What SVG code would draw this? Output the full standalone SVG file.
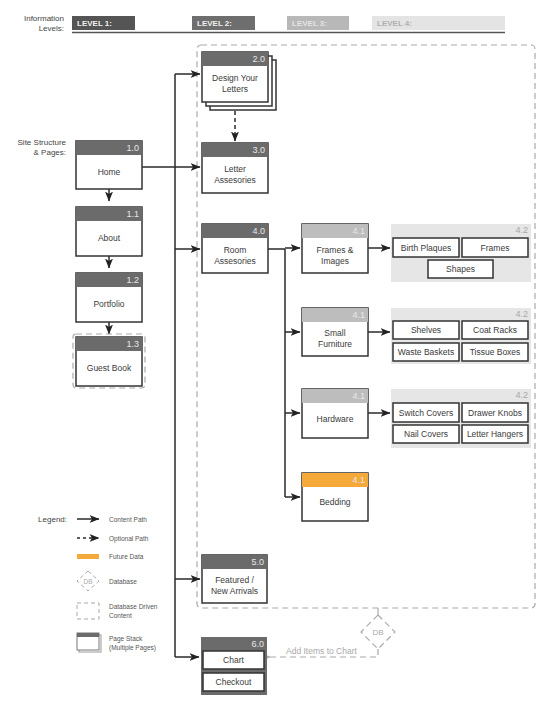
<svg xmlns="http://www.w3.org/2000/svg" width="550" height="711" viewBox="0 0 550 711">
<defs>
<style>
text{font-family:"Liberation Sans",Arial,sans-serif}
.lbl{font-size:8.5px;fill:#3a3a3a;text-anchor:middle}
.num{font-size:9px;fill:#e8e8e8;text-anchor:end}
.box{fill:#fff;stroke:#333;stroke-width:1.5}
.hd{fill:#6b6b6b}
.hd3{fill:#bdbdbd}
.hdo{fill:#f5a93a}
.item{fill:#fff;stroke:#333;stroke-width:1.5}
.grp{fill:#e6e6e6}
.n42{font-size:9px;fill:#a8a8a8;text-anchor:end}
.ln{fill:none;stroke:#2a2a2a;stroke-width:1.5}
.dash{fill:none;stroke:#aaa;stroke-width:1.2;stroke-dasharray:6 4}
.side{font-size:8px;fill:#444;text-anchor:end}
.leg{font-size:6.5px;fill:#555}
.lv{font-size:8px;font-weight:bold}
</style>
<marker id="ah" markerUnits="userSpaceOnUse" markerWidth="10" markerHeight="8" refX="9.5" refY="4" orient="auto"><path d="M0,0 L10,4 L0,8 L2.5,4 Z" fill="#222"/></marker>
<marker id="ahg" markerUnits="userSpaceOnUse" markerWidth="10" markerHeight="8" refX="1" refY="4" orient="auto"><path d="M10,0 L0,4 L10,8 L7.5,4 Z" fill="#aaa"/></marker>
</defs>
<rect width="550" height="711" fill="#fff"/>

<g id="levels">
<text class="side" x="64" y="21">Information</text>
<text class="side" x="64" y="31">Levels:</text>
<rect x="72" y="16" width="63" height="14" fill="#555"/>
<text class="lv" x="77" y="26" fill="#f0f0f0">LEVEL 1:</text>
<rect x="192" y="16" width="63" height="14" fill="#6e6e6e"/>
<text class="lv" x="197" y="26" fill="#f0f0f0">LEVEL 2:</text>
<rect x="287" y="16" width="62" height="14" fill="#b8b8b8"/>
<text class="lv" x="292" y="26" fill="#e4e4e4">LEVEL 3:</text>
<rect x="372" y="16" width="133" height="14" fill="#e4e4e4"/>
<text class="lv" x="377" y="26" fill="#b0b0b0" font-weight="normal">LEVEL 4:</text>
<line x1="72" y1="32.5" x2="505" y2="32.5" stroke="#555" stroke-width="1.5"/>
</g>

<text class="side" x="66" y="145">Site Structure</text>
<text class="side" x="66" y="155">&amp; Pages:</text>

<rect id="container" x="197" y="45" width="338" height="563" rx="4" class="dash"/>

<g id="connectors">
<line class="ln" x1="175" y1="74" x2="175" y2="657"/>
<line class="ln" x1="175" y1="74" x2="200" y2="74" marker-end="url(#ah)"/>
<line class="ln" x1="142" y1="167" x2="200" y2="167" marker-end="url(#ah)"/>
<line class="ln" x1="175" y1="249" x2="200" y2="249" marker-end="url(#ah)"/>
<line class="ln" x1="175" y1="579" x2="200" y2="579" marker-end="url(#ah)"/>
<line class="ln" x1="175" y1="657" x2="199" y2="657" marker-end="url(#ah)"/>
<line class="ln" x1="109" y1="189" x2="109" y2="201" marker-end="url(#ah)"/>
<line class="ln" x1="109" y1="256" x2="109" y2="268" marker-end="url(#ah)"/>
<line class="ln" x1="109" y1="322" x2="109" y2="334" marker-end="url(#ah)"/>
<line class="ln" x1="235" y1="111" x2="235" y2="141" stroke-dasharray="4 3" marker-end="url(#ah)"/>
<line class="ln" x1="268" y1="249" x2="285" y2="249"/>
<line class="ln" x1="285" y1="249" x2="285" y2="497"/>
<line class="ln" x1="285" y1="248" x2="300" y2="248" marker-end="url(#ah)"/>
<line class="ln" x1="285" y1="332" x2="300" y2="332" marker-end="url(#ah)"/>
<line class="ln" x1="285" y1="413" x2="300" y2="413" marker-end="url(#ah)"/>
<line class="ln" x1="285" y1="497" x2="300" y2="497" marker-end="url(#ah)"/>
<line class="ln" x1="368" y1="248" x2="390" y2="248" marker-end="url(#ah)"/>
<line class="ln" x1="368" y1="332" x2="390" y2="332" marker-end="url(#ah)"/>
<line class="ln" x1="368" y1="413" x2="390" y2="413" marker-end="url(#ah)"/>
<path d="M378,608 L378,615" stroke="#aaa" stroke-width="1.2" fill="none"/>
<path d="M378,649 L378,657 L270,657" stroke="#aaa" stroke-width="1.2" fill="none" stroke-dasharray="6 4" marker-end="url(#ahg)"/>
<text x="286" y="654" font-size="8.5" fill="#a8a8a8">Add Items to Chart</text>
</g>

<g id="db">
<polygon points="378,615 395,632 378,649 361,632" fill="#fff" stroke="#aaa" stroke-width="1.2" stroke-dasharray="6 4"/>
<text x="378" y="635" font-size="8" fill="#aaa" text-anchor="middle">DB</text>
</g>

<g id="n1-0">
<rect class="box" x="76" y="141" width="66" height="48"/>
<rect class="hd" x="76" y="141" width="66" height="14"/>
<text class="num" x="139" y="151">1.0</text>
<text class="lbl" x="109" y="175">Home</text>
</g>
<g id="n1-1">
<rect class="box" x="76" y="207" width="66" height="49"/>
<rect class="hd" x="76" y="207" width="66" height="14"/>
<text class="num" x="139" y="217">1.1</text>
<text class="lbl" x="109" y="241">About</text>
</g>
<g id="n1-2">
<rect class="box" x="76" y="273" width="66" height="49"/>
<rect class="hd" x="76" y="273" width="66" height="14"/>
<text class="num" x="139" y="283">1.2</text>
<text class="lbl" x="109" y="307">Portfolio</text>
</g>
<g id="n1-3">
<rect x="73" y="334" width="72" height="54" rx="3" class="dash"/>
<rect class="box" x="76" y="337" width="66" height="49"/>
<rect class="hd" x="76" y="337" width="66" height="14"/>
<text class="num" x="139" y="347">1.3</text>
<text class="lbl" x="109" y="371">Guest Book</text>
</g>

<g id="n2-0">
<rect class="box" x="210" y="60" width="66" height="50"/>
<rect class="box" x="206" y="56" width="66" height="50"/>
<rect class="box" x="202" y="52" width="66" height="50"/>
<rect class="hd" x="202" y="52" width="66" height="14"/>
<text class="num" x="265" y="62">2.0</text>
<text class="lbl" x="235" y="81">Design Your</text>
<text class="lbl" x="235" y="92">Letters</text>
</g>
<g id="n3-0">
<rect class="box" x="202" y="143" width="66" height="50"/>
<rect class="hd" x="202" y="143" width="66" height="14"/>
<text class="num" x="265" y="153">3.0</text>
<text class="lbl" x="235" y="172">Letter</text>
<text class="lbl" x="235" y="183">Assesories</text>
</g>
<g id="n4-0">
<rect class="box" x="202" y="224" width="66" height="49"/>
<rect class="hd" x="202" y="224" width="66" height="14"/>
<text class="num" x="265" y="234">4.0</text>
<text class="lbl" x="235" y="253">Room</text>
<text class="lbl" x="235" y="264">Assesories</text>
</g>

<g id="n4-1a">
<rect class="box" x="302" y="224" width="66" height="49"/>
<rect class="hd3" x="302" y="224" width="66" height="14"/>
<text class="num" x="365" y="234">4.1</text>
<text class="lbl" x="335" y="253">Frames &amp;</text>
<text class="lbl" x="335" y="264">Images</text>
</g>
<g id="n4-1b">
<rect class="box" x="302" y="308" width="66" height="48"/>
<rect class="hd3" x="302" y="308" width="66" height="14"/>
<text class="num" x="365" y="318">4.1</text>
<text class="lbl" x="335" y="336">Small</text>
<text class="lbl" x="335" y="347">Furniture</text>
</g>
<g id="n4-1c">
<rect class="box" x="302" y="389" width="66" height="49"/>
<rect class="hd3" x="302" y="389" width="66" height="14"/>
<text class="num" x="365" y="399">4.1</text>
<text class="lbl" x="335" y="422">Hardware</text>
</g>
<g id="n4-1d">
<rect class="box" x="302" y="473" width="66" height="48"/>
<rect class="hdo" x="302" y="473" width="66" height="14"/>
<text class="num" x="365" y="483">4.1</text>
<text class="lbl" x="335" y="505">Bedding</text>
</g>

<g id="n4-2a">
<rect class="grp" x="391" y="224" width="140" height="58"/>
<text class="n42" x="528" y="233">4.2</text>
<rect class="item" x="393" y="238" width="66" height="19"/>
<text class="lbl" x="426" y="250.5">Birth Plaques</text>
<rect class="item" x="462" y="238" width="66" height="19"/>
<text class="lbl" x="495" y="250.5">Frames</text>
<rect class="item" x="428" y="260" width="65" height="18"/>
<text class="lbl" x="460.5" y="272">Shapes</text>
</g>
<g id="n4-2b">
<rect class="grp" x="391" y="308" width="140" height="56"/>
<text class="n42" x="528" y="317">4.2</text>
<rect class="item" x="393" y="321" width="66" height="18"/>
<text class="lbl" x="426" y="333">Shelves</text>
<rect class="item" x="462" y="321" width="66" height="18"/>
<text class="lbl" x="495" y="333">Coat Racks</text>
<rect class="item" x="393" y="343" width="66" height="18"/>
<text class="lbl" x="426" y="355">Waste Baskets</text>
<rect class="item" x="462" y="343" width="66" height="18"/>
<text class="lbl" x="495" y="355">Tissue Boxes</text>
</g>
<g id="n4-2c">
<rect class="grp" x="391" y="389" width="140" height="59"/>
<text class="n42" x="528" y="398">4.2</text>
<rect class="item" x="393" y="403" width="66" height="19"/>
<text class="lbl" x="426" y="415.5">Switch Covers</text>
<rect class="item" x="462" y="403" width="66" height="19"/>
<text class="lbl" x="495" y="415.5">Drawer Knobs</text>
<rect class="item" x="393" y="425" width="66" height="18"/>
<text class="lbl" x="426" y="437">Nail Covers</text>
<rect class="item" x="462" y="425" width="66" height="18"/>
<text class="lbl" x="495" y="437">Letter Hangers</text>
</g>

<g id="n5-0">
<rect class="box" x="202" y="555" width="65" height="48"/>
<rect class="hd" x="202" y="555" width="65" height="14"/>
<text class="num" x="264" y="565">5.0</text>
<text class="lbl" x="234.5" y="583">Featured /</text>
<text class="lbl" x="234.5" y="594">New Arrivals</text>
</g>
<g id="n6-0">
<rect x="201" y="637" width="66" height="58" fill="#6b6b6b"/>
<text class="num" x="264" y="647">6.0</text>
<rect class="item" x="203" y="651" width="61" height="18"/>
<text class="lbl" x="233.5" y="663">Chart</text>
<rect class="item" x="203" y="673" width="61" height="18"/>
<text class="lbl" x="233.5" y="685">Checkout</text>
</g>

<g id="legend">
<text class="side" x="67" y="522">Legend:</text>
<line class="ln" x1="77" y1="519" x2="99" y2="519" marker-end="url(#ah)"/>
<text class="leg" x="109" y="522">Content Path</text>
<line class="ln" x1="77" y1="538" x2="99" y2="538" stroke-dasharray="3 3" marker-end="url(#ah)"/>
<text class="leg" x="109" y="541">Optional Path</text>
<rect x="77" y="554" width="22" height="5" fill="#f5a93a"/>
<text class="leg" x="109" y="559">Future Data</text>
<polygon points="88,571 99,581 88,591 77,581" fill="#fff" stroke="#aaa" stroke-width="1" stroke-dasharray="4 3"/>
<text x="88" y="583.5" font-size="6.5" fill="#aaa" text-anchor="middle">DB</text>
<text class="leg" x="109" y="584">Database</text>
<rect x="77" y="603" width="22" height="16" fill="none" stroke="#aaa" stroke-width="1" stroke-dasharray="4 3"/>
<text class="leg" x="109" y="609">Database Driven</text>
<text class="leg" x="109" y="618">Content</text>
<rect x="79" y="635" width="22" height="17" fill="#fff" stroke="#999" stroke-width="1"/>
<rect x="77" y="633" width="22" height="17" fill="#fff" stroke="#777" stroke-width="1"/>
<rect x="77" y="633" width="22" height="4" fill="#6b6b6b"/>
<text class="leg" x="109" y="641">Page Stack</text>
<text class="leg" x="109" y="650">(Multiple Pages)</text>
</g>
</svg>
